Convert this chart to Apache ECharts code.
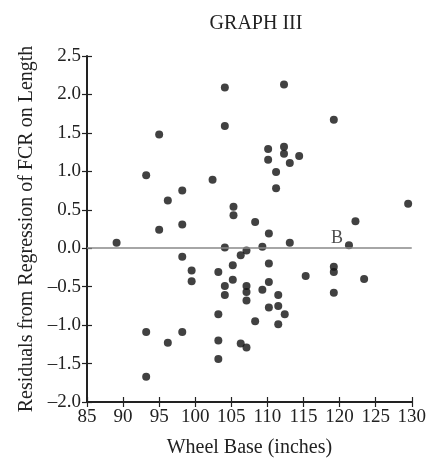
<!DOCTYPE html>
<html>
<head>
<meta charset="utf-8">
<script src="https://cdn.jsdelivr.net/npm/echarts@6/dist/echarts.min.js"></script>
<style>
html,body{margin:0;padding:0;background:#fff;}
#chart{width:429px;height:463px;}
</style>
</head>
<body>
<div id="chart"></div>
<script>
// wheel base (inches) and residuals
var wheelBase = [104.1,104.1,95.0,93.2,102.4,98.2,96.2,105.3,105.3,98.2,95.0,
	112.3,119.2,110.1,112.3,112.3,114.4,110.1,113.1,111.2,111.2,129.5,108.3,122.2,110.2,
	89.1,104.1,107.1,106.3,98.2,105.2,99.5,103.2,99.5,105.2,104.1,107.1,107.1,104.1,107.1,
	103.2,93.2,98.2,96.2,103.2,106.3,107.1,103.2,93.2,
	113.1,109.3,110.2,115.3,119.2,119.2,123.4,119.2,110.2,109.3,111.5,110.2,111.5,112.4,108.3,111.5];
var residuals = [2.09,1.59,1.48,0.95,0.89,0.75,0.62,0.54,0.43,0.31,0.24,
	2.13,1.67,1.29,1.32,1.23,1.20,1.15,1.11,0.99,0.78,0.58,0.34,0.35,0.19,
	0.07,0.01,-0.03,-0.09,-0.11,-0.22,-0.29,-0.31,-0.43,-0.41,-0.49,-0.49,-0.57,-0.61,-0.68,
	-0.86,-1.09,-1.09,-1.23,-1.20,-1.24,-1.29,-1.44,-1.67,
	0.07,0.02,-0.20,-0.36,-0.24,-0.31,-0.40,-0.58,-0.44,-0.54,-0.61,-0.77,-0.75,-0.86,-0.95,-0.99];
// the labelled point
var pointBX = [121.3];
var pointBY = [0.04];
var pointBName = ['B'];

var xTicks = [85,130,5];
var yTicks = [-2.0,2.5,0.5];

var fnt = '"Liberation Serif", "Times New Roman", serif';
var ink = '#222';

var pts = [];
for(var i=0;i<wheelBase.length;i++){
	pts.push([wheelBase[i],residuals[i]]);
}
var bpts = [];
for(var i=0;i<pointBX.length;i++){
	bpts.push({value:[pointBX[i],pointBY[i]],name:pointBName[i]});
}

function xAx(inside,show){
	return {
		type:'value', min:xTicks[0], max:xTicks[1], interval:xTicks[2],
		position:'bottom',
		splitLine:{show:false},
		axisLine:{show:show,onZero:false,lineStyle:{color:ink,width:2}},
		axisTick:{show:true,inside:inside,length:5,lineStyle:{color:ink,width:1.2}},
		axisLabel:{show:show,color:ink,fontFamily:fnt,fontSize:19,margin:6},
		name:show?'Wheel Base (inches)':'',
		nameLocation:'middle', nameGap:36,
		nameTextStyle:{color:ink,fontFamily:fnt,fontSize:20}
	};
}
function yAx(inside,show){
	return {
		type:'value', min:yTicks[0], max:yTicks[1], interval:yTicks[2],
		position:'left',
		splitLine:{show:false},
		axisLine:{show:show,onZero:false,lineStyle:{color:ink,width:2}},
		axisTick:{show:true,inside:inside,length:5,lineStyle:{color:ink,width:1.2}},
		axisLabel:{show:show,color:ink,fontFamily:fnt,fontSize:19,margin:6,
			formatter:function(v){ return (v<0?'\u2013':'')+Math.abs(v).toFixed(1); }},
		name:show?'Residuals from Regression of FCR on Length':'',
		nameLocation:'middle', nameGap:50,
		nameTextStyle:{color:ink,fontFamily:fnt,fontSize:20}
	};
}

var myChart = echarts.init(document.getElementById('chart'));
var option = {
	animation:false,
	title:{
		text:'GRAPH III', left:251, top:9, textAlign:'center',
		textStyle:{color:ink,fontFamily:fnt,fontSize:20,fontWeight:'normal'}
	},
	grid:{left:87,right:15,top:56,bottom:58},
	xAxis:[xAx(false,true),xAx(true,false)],
	yAxis:[yAx(false,true),yAx(true,false)],
	series:[
		{
			type:'scatter', data:pts, symbolSize:8,
			itemStyle:{color:'#111'},
			markLine:{
				silent:true, symbol:'none', label:{show:false},
				lineStyle:{color:'#888',width:1.5,type:'solid'},
				data:[{yAxis:0}]
			}
		},
		{
			type:'scatter', data:bpts, symbolSize:8,
			itemStyle:{color:'#111'},
			label:{show:true, formatter:'{b}', position:[-8,-3], align:'center', verticalAlign:'middle',
				color:ink, fontFamily:fnt, fontSize:18}
		}
	]
};
myChart.setOption(option, true);
</script>
</body>
</html>
